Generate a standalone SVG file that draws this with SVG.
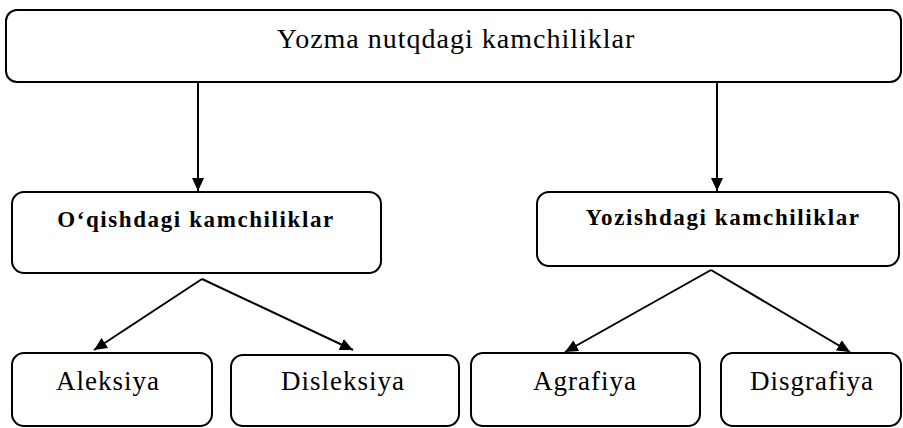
<svg xmlns="http://www.w3.org/2000/svg" width="903" height="428" viewBox="0 0 903 428">
<style>
.box{fill:#fff;stroke:#000;stroke-width:2}
.t{font-family:"Liberation Serif","Times New Roman",serif;fill:#000;text-anchor:middle}
.reg{font-size:27px;letter-spacing:1px}
.top{font-size:28px;letter-spacing:1px}
.bold{font-weight:bold;font-size:23px;letter-spacing:1.6px}
.conn{stroke:#000;stroke-width:2;fill:none;marker-end:url(#ah)}
</style>
<defs>
<marker id="ah" markerUnits="userSpaceOnUse" markerWidth="14" markerHeight="12" viewBox="0 0 14 12" refX="13" refY="6" orient="auto">
<path d="M0,0 L13,6 L0,12 Z" fill="#000"/>
</marker>
</defs>
<rect width="903" height="428" fill="#fff"/>
<g id="connectors">
<line class="conn" x1="198" y1="82" x2="198" y2="191"/>
<line class="conn" x1="717" y1="82" x2="717" y2="191"/>
<line class="conn" x1="202" y1="279" x2="94" y2="350"/>
<line class="conn" x1="202" y1="279" x2="353" y2="350"/>
<line class="conn" x1="711" y1="270" x2="565" y2="352"/>
<line class="conn" x1="711" y1="270" x2="850" y2="352"/>
</g>
<g id="root">
<rect class="box" x="6" y="10" width="895" height="72" rx="11"/>
<text class="t top" x="456" y="48">Yozma nutqdagi kamchiliklar</text>
</g>
<g id="oqish">
<rect class="box" x="12" y="192" width="369" height="81" rx="12"/>
<text class="t bold" x="196" y="227">O‘qishdagi kamchiliklar</text>
</g>
<g id="yozish">
<rect class="box" x="537" y="192" width="362" height="74" rx="12"/>
<text class="t bold" x="723" y="225">Yozishdagi kamchiliklar</text>
</g>
<g id="aleksiya">
<rect class="box" x="12" y="353" width="200" height="73" rx="12"/>
<text class="t reg" x="108" y="390">Aleksiya</text>
</g>
<g id="disleksiya">
<rect class="box" x="231" y="355" width="228" height="71" rx="12"/>
<text class="t reg" x="343" y="390">Disleksiya</text>
</g>
<g id="agrafiya">
<rect class="box" x="471" y="353" width="229" height="73" rx="12"/>
<text class="t reg" x="585" y="390">Agrafiya</text>
</g>
<g id="disgrafiya">
<rect class="box" x="721" y="353" width="180" height="73" rx="12"/>
<text class="t reg" x="812" y="390">Disgrafiya</text>
</g>
</svg>
